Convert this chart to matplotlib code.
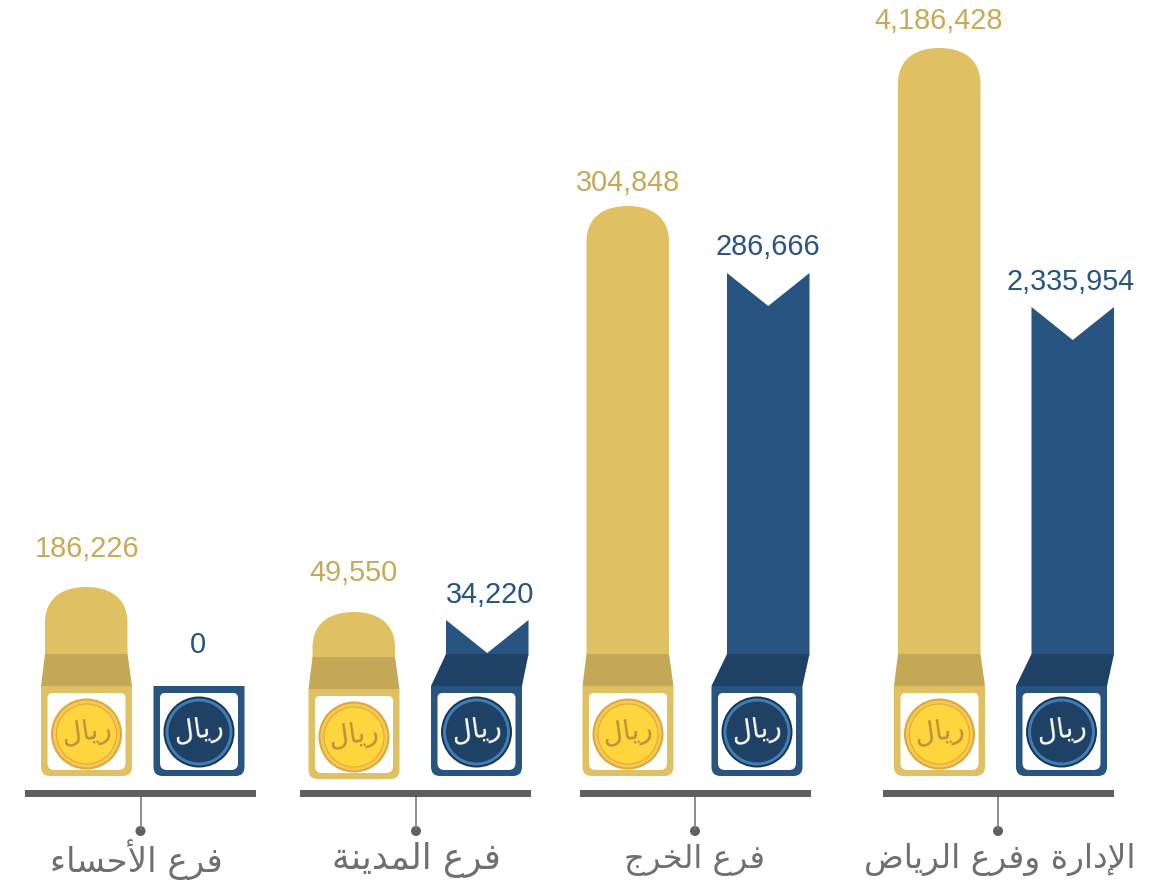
import matplotlib
matplotlib.use('Agg')
import matplotlib.pyplot as plt
from matplotlib.patches import Circle, PathPatch, Polygon, Rectangle
from matplotlib.path import Path

# Data
branches = ['فرع الأحساء', 'فرع المدينة', 'فرع الخرج', 'الإدارة وفرع الرياض']
gold_values = [186226, 49550, 304848, 4186428]
blue_values = [0, 34220, 286666, 2335954]
# drawn lengths do not follow the values in the original
gold_lengths = [67, 45, 448, 606]
blue_lengths = [0, 34, 381, 347]
coin_word = 'ريال'

# Layout in pixels
gold_box_x = [41, 308.5, 582.5, 894]
gold_shift = [0, 3, 0, 0]
blue_box_x = [153.5, 431, 711.5, 1016]
blue_bar_x = [0, 446, 727, 1031.5]
rule_x = [25, 300, 580, 883]
stem_x = [140.5, 416, 695, 998]
label_x = [136, 416, 695, 1000]
label_size = [24.5, 25.7, 23.2, 23.7]
gold_label_x = [87, 353.5, 627.5, 939]
gold_label_y = [549, 573, 183, 21]
blue_label_x = [197.5, 490, 768, 1071]
blue_label_y = [645, 595, 247, 282]
BOX_W = 91
BAR_W = 82.5

GOLD = '#dfc163'
GOLD_DARK = '#c4a855'
GOLD_TEXT = '#c8a95a'
BLUE = '#275480'
BLUE_DARK = '#1f4166'
GREY = '#5f5f5f'

# (isolated, final, initial, medial), two forms only for letters that do not join forward
forms = {
    'ا': (0xFE8D, 0xFE8E), 'أ': (0xFE83, 0xFE84), 'إ': (0xFE87, 0xFE88), 'ء': (0xFE80,),
    'ة': (0xFE93, 0xFE94), 'د': (0xFEA9, 0xFEAA), 'ر': (0xFEAD, 0xFEAE), 'و': (0xFEED, 0xFEEE),
    'ج': (0xFE9D, 0xFE9E, 0xFE9F, 0xFEA0), 'ح': (0xFEA1, 0xFEA2, 0xFEA3, 0xFEA4),
    'خ': (0xFEA5, 0xFEA6, 0xFEA7, 0xFEA8), 'س': (0xFEB1, 0xFEB2, 0xFEB3, 0xFEB4),
    'ض': (0xFEBD, 0xFEBE, 0xFEBF, 0xFEC0), 'ع': (0xFEC9, 0xFECA, 0xFECB, 0xFECC),
    'ف': (0xFED1, 0xFED2, 0xFED3, 0xFED4), 'ل': (0xFEDD, 0xFEDE, 0xFEDF, 0xFEE0),
    'م': (0xFEE1, 0xFEE2, 0xFEE3, 0xFEE4), 'ن': (0xFEE5, 0xFEE6, 0xFEE7, 0xFEE8),
    'ي': (0xFEF1, 0xFEF2, 0xFEF3, 0xFEF4),
}
lam_alef = {'ا': (0xFEFB, 0xFEFC), 'أ': (0xFEF7, 0xFEF8), 'إ': (0xFEF9, 0xFEFA)}


# matplotlib has no Arabic shaping, so pick the joined forms and reverse by hand
def shape(word):
    out = []
    joined = False
    i = 0
    while i < len(word):
        c = word[i]
        if c == ' ':
            out.append(c)
            joined = False
            i += 1
            continue
        if c == 'ل' and i + 1 < len(word) and word[i + 1] in lam_alef:
            out.append(chr(lam_alef[word[i + 1]][1 if joined else 0]))
            joined = False
            i += 2
            continue
        f = forms[c]
        nxt = word[i + 1] if i + 1 < len(word) else ' '
        goes_on = len(f) == 4 and nxt != ' '
        if joined and goes_on:
            code = f[3]
        elif joined:
            code = f[1]
        elif goes_on:
            code = f[2]
        else:
            code = f[0]
        out.append(chr(code))
        joined = goes_on
        i += 1
    return ''.join(reversed(out))


# rectangle with only the two lower corners rounded (y axis points down)
def cup_path(left, right, top, bottom, r, top_r=0):
    verts = [(left + top_r, top), (right - top_r, top), (right, top), (right, top + top_r),
             (right, bottom - r), (right, bottom), (right - r, bottom),
             (left + r, bottom), (left, bottom), (left, bottom - r),
             (left, top + top_r), (left, top), (left + top_r, top), (left + top_r, top)]
    codes = [Path.MOVETO, Path.LINETO, Path.CURVE3, Path.CURVE3,
             Path.LINETO, Path.CURVE3, Path.CURVE3,
             Path.LINETO, Path.CURVE3, Path.CURVE3,
             Path.LINETO, Path.CURVE3, Path.CURVE3, Path.CLOSEPOLY]
    return Path(verts, codes)


def rounded_box(ax, x, top, bottom, color):
    ax.add_patch(PathPatch(cup_path(x, x + BOX_W, top, bottom, 9), fc=color, ec='none'))
    ax.add_patch(PathPatch(cup_path(x + 6.5, x + BOX_W - 6.5, top + 7, bottom - 6, 7, 5), fc='white', ec='none'))


def dome(ax, x, top, bottom, color):
    verts = [(x, bottom), (x, top + 36), (x, top + 9), (x + 20, top), (x + BAR_W / 2, top),
             (x + BAR_W - 20, top), (x + BAR_W, top + 9), (x + BAR_W, top + 36), (x + BAR_W, bottom), (x, bottom)]
    codes = [Path.MOVETO, Path.LINETO, Path.CURVE4, Path.CURVE4, Path.CURVE4,
             Path.CURVE4, Path.CURVE4, Path.CURVE4, Path.LINETO, Path.CLOSEPOLY]
    ax.add_patch(PathPatch(Path(verts, codes), fc=color, ec='none'))


def coin(ax, x, y, rings, text_color):
    for radius, color in zip([35.5, 33.5, 30.5, 29.5], rings):
        ax.add_patch(Circle((x, y), radius, fc=color, ec='none'))
    ax.text(x, y - 1, shape(coin_word), fontsize=20, color=text_color, ha='center', va='center',
            family='DejaVu Sans', rotation=8)


fig = plt.figure(figsize=(11.62, 8.83), dpi=100)
ax = fig.add_axes([0, 0, 1, 1])
ax.set_xlim(0, 1162)
ax.set_ylim(883, 0)
ax.axis('off')

for i in range(4):
    # gold side
    s = gold_shift[i]
    gx = gold_box_x[i]
    bar_left = gx + 4
    neck_y = 654 + s
    dome(ax, bar_left, neck_y - gold_lengths[i], neck_y + 1, GOLD)
    ax.add_patch(Polygon([(bar_left, neck_y), (bar_left + BAR_W, neck_y), (gx + BOX_W, 686 + s), (gx, 686 + s)],
                         fc=GOLD_DARK, ec='none'))
    rounded_box(ax, gx, 686 + s, 776 + s, GOLD)
    coin(ax, gx + 45.5, 734 + s, ['#dca73c', '#f7c74f', '#dca73c', '#ffd53d'], '#b8933a')
    ax.text(gold_label_x[i], gold_label_y[i], f'{gold_values[i]:,}', fontsize=20.8, color=GOLD_TEXT,
            family='Liberation Sans', ha='center', va='center')

    # blue side
    bx = blue_box_x[i]
    if blue_lengths[i] > 0:
        left = blue_bar_x[i]
        top = 654 - blue_lengths[i]
        ax.add_patch(Polygon([(left, top), (left + BAR_W / 2, top + 33), (left + BAR_W, top), (left + BAR_W, 655), (left, 655)],
                             fc=BLUE, ec='none'))
        ax.add_patch(Polygon([(left, 654), (left + BAR_W, 654), (bx + BOX_W, 686), (bx, 686)], fc=BLUE_DARK, ec='none'))
    rounded_box(ax, bx, 686, 776, BLUE)
    coin(ax, bx + 45.5, 732, ['#1a3553', '#3f7db5', BLUE_DARK, BLUE_DARK], 'white')
    ax.text(blue_label_x[i], blue_label_y[i], f'{blue_values[i]:,}', fontsize=20.8, color=BLUE,
            family='Liberation Sans', ha='center', va='center')

    # baseline, stem and branch name
    ax.add_patch(Rectangle((rule_x[i], 790), 231, 7, fc=GREY, ec='none'))
    ax.plot([stem_x[i], stem_x[i]], [797, 830], color='#7a7a7a', lw=1.2, solid_capstyle='butt')
    ax.add_patch(Circle((stem_x[i], 831), 5, fc=GREY, ec='none'))
    ax.text(label_x[i], 860, shape(branches[i]), fontsize=label_size[i], color='#6f6f6f', family='DejaVu Sans',
            ha='center', va='center')

fig.savefig('out.png', dpi=100)
